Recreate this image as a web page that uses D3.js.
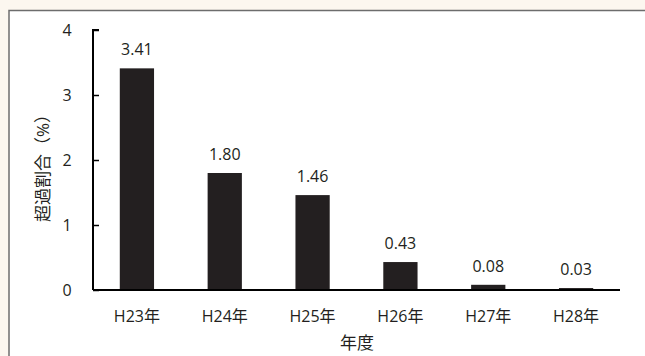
<!DOCTYPE html>
<html>
<head>
<meta charset="utf-8">
<script src="https://cdn.jsdelivr.net/npm/d3@7"></script>
<style>
  body { margin: 0; background: #fcf7ef; }
  svg { display: block; }
  text { font-family: "Open Sans", "Noto Sans CJK JP", sans-serif; fill: #231f20; }
</style>
</head>
<body>
<svg id="chart" width="645" height="356"></svg>
<script>
const years = ["H23年", "H24年", "H25年", "H26年", "H27年", "H28年"];
const ratios = [3.41, 1.80, 1.46, 0.43, 0.08, 0.03];
const yTicks = [0, 1, 2, 3, 4];

const svg = d3.select("#chart");

// panel with grey border
svg.append("rect")
  .attr("x", 9).attr("y", 10.5)
  .attr("width", 660).attr("height", 360)
  .attr("fill", "#ffffff")
  .attr("stroke", "#6d6d6d")
  .attr("stroke-width", 1.5);

const x = d3.scaleBand()
  .domain(years)
  .range([93, 620])
  .paddingInner(0.61)
  .paddingOuter(0.305);

const y = d3.scaleLinear()
  .domain([0, 4])
  .range([290, 30]);

// bars
svg.selectAll(".bar")
  .data(ratios)
  .join("rect")
    .attr("class", "bar")
    .attr("x", (d, i) => x(years[i]))
    .attr("width", x.bandwidth())
    .attr("y", d => y(d))
    .attr("height", d => y(0) - y(d))
    .attr("fill", "#231f20");

// value labels
svg.selectAll(".val")
  .data(ratios)
  .join("text")
    .attr("class", "val")
    .attr("x", (d, i) => x(years[i]) + x.bandwidth() / 2)
    .attr("y", d => y(d) - 13)
    .attr("text-anchor", "middle")
    .style("font-size", "16px")
    .text(d => d.toFixed(2));

// y axis (ticks point inward)
const yAxis = svg.append("g")
  .attr("transform", "translate(93,0)")
  .call(d3.axisRight(y).tickValues(yTicks).tickSize(6).tickFormat(""));
yAxis.select(".domain").attr("stroke", "#000").attr("stroke-width", 2)
  .attr("d", "M6," + y(4) + "H0V" + y(0));
yAxis.selectAll(".tick line").attr("stroke", "#000").attr("stroke-width", 1.5);

svg.selectAll(".ylab")
  .data(yTicks)
  .join("text")
    .attr("class", "ylab")
    .attr("x", 67)
    .attr("y", d => y(d) + 6)
    .attr("text-anchor", "middle")
    .style("font-size", "16px")
    .text(d => d);

// x axis
svg.append("line")
  .attr("x1", 93).attr("x2", 620)
  .attr("y1", y(0)).attr("y2", y(0))
  .attr("stroke", "#000").attr("stroke-width", 2);

svg.selectAll(".xlab")
  .data(years)
  .join("text")
    .attr("class", "xlab")
    .attr("x", d => x(d) + x.bandwidth() / 2)
    .attr("y", 321.5)
    .attr("text-anchor", "middle")
    .style("font-size", "16px")
    .text(d => d);

// axis titles
svg.append("text")
  .attr("x", 357).attr("y", 349)
  .attr("text-anchor", "middle")
  .style("font-size", "17px")
  .text("年度");

svg.append("text")
  .attr("transform", "translate(49,164) rotate(-90)")
  .attr("text-anchor", "middle")
  .style("font-size", "17px")
  .text("超過割合（%）");
</script>
</body>
</html>
